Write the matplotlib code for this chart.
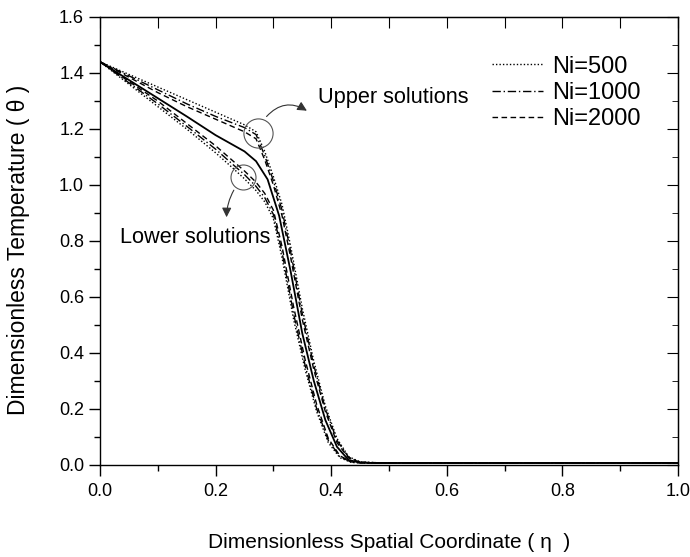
import matplotlib
matplotlib.use('Agg')
import matplotlib.pyplot as plt
from matplotlib.lines import Line2D
from matplotlib.ticker import MultipleLocator, FormatStrFormatter

plt.rcParams['font.family'] = ['Liberation Sans', 'DejaVu Sans']

# solid reference curve
eta_solid = [0, 0.05, 0.10, 0.15, 0.20, 0.25, 0.27, 0.29, 0.31, 0.33, 0.35, 0.37,
             0.39, 0.41, 0.43, 0.45, 0.48, 0.55, 1.0]
theta_solid = [1.44, 1.375, 1.31, 1.245, 1.178, 1.12, 1.085, 1.02, 0.89, 0.69, 0.47,
               0.30, 0.16, 0.065, 0.018, 0.008, 0.007, 0.007, 0.007]

# upper solutions
eta_up = [0, 0.05, 0.10, 0.15, 0.20, 0.25, 0.27, 0.285, 0.30, 0.315, 0.33, 0.35,
          0.37, 0.39, 0.41, 0.43, 0.45, 0.48, 0.55, 1.0]
theta_up_500 = [1.44, 1.395, 1.35, 1.305, 1.26, 1.215, 1.19, 1.12, 1.03, 0.93, 0.78,
                0.56, 0.37, 0.21, 0.095, 0.03, 0.011, 0.008, 0.008, 0.008]
theta_up_1000 = [1.44, 1.39, 1.34, 1.29, 1.245, 1.205, 1.18, 1.105, 1.015, 0.91, 0.76,
                 0.54, 0.355, 0.20, 0.088, 0.028, 0.01, 0.008, 0.008, 0.008]
theta_up_2000 = [1.44, 1.385, 1.33, 1.28, 1.235, 1.19, 1.165, 1.09, 1.0, 0.89, 0.74,
                 0.52, 0.34, 0.19, 0.08, 0.025, 0.01, 0.008, 0.008, 0.008]

# lower solutions
eta_low = [0, 0.05, 0.10, 0.15, 0.20, 0.23, 0.25, 0.27, 0.285, 0.30, 0.315, 0.335,
           0.355, 0.375, 0.395, 0.415, 0.435, 0.46, 0.5, 0.55, 1.0]
theta_low_500 = [1.44, 1.36, 1.28, 1.20, 1.115, 1.06, 1.022, 0.98, 0.94, 0.88, 0.74,
                 0.52, 0.34, 0.19, 0.08, 0.026, 0.009, 0.007, 0.007, 0.007, 0.007]
theta_low_1000 = [1.44, 1.365, 1.29, 1.21, 1.128, 1.073, 1.037, 0.995, 0.955, 0.895, 0.76,
                  0.54, 0.355, 0.20, 0.088, 0.03, 0.01, 0.007, 0.007, 0.007, 0.007]
theta_low_2000 = [1.44, 1.37, 1.30, 1.22, 1.14, 1.086, 1.05, 1.01, 0.97, 0.91, 0.78,
                  0.565, 0.375, 0.215, 0.095, 0.033, 0.011, 0.007, 0.007, 0.007, 0.007]

labels = ['Ni=500', 'Ni=1000', 'Ni=2000']
styles = [(0, (1, 1.5)), (0, (6, 2, 1, 2)), (0, (4, 2.5))]

fig = plt.figure(figsize=(6.9, 5.57), dpi=100)
ax = fig.add_axes([0.1449, 0.1652, 0.8377, 0.8043])

ax.plot(eta_solid, theta_solid, color='black', lw=1.3, ls='-')
for th, ls in zip([theta_up_500, theta_up_1000, theta_up_2000], styles):
    ax.plot(eta_up, th, color='black', lw=1.0, ls=ls)
for th, ls in zip([theta_low_500, theta_low_1000, theta_low_2000], styles):
    ax.plot(eta_low, th, color='black', lw=1.0, ls=ls)

# circles marking the two families
ax.plot([0.273], [1.186], marker='o', ms=21, mfc='none', mec='#555555', mew=0.8)
ax.plot([0.247], [1.03], marker='o', ms=18, mfc='none', mec='#555555', mew=0.8)

ax.annotate('', xy=(0.362, 1.26), xytext=(0.285, 1.237),
            arrowprops=dict(arrowstyle='-|>', color='#333333', lw=0.8,
                            mutation_scale=14, connectionstyle='arc3,rad=-0.45'))
ax.annotate('', xy=(0.219, 0.875), xytext=(0.234, 0.99),
            arrowprops=dict(arrowstyle='-|>', color='#333333', lw=0.8,
                            mutation_scale=14, connectionstyle='arc3,rad=0.15'))
ax.text(0.377, 1.314, 'Upper solutions', fontsize=15.7, ha='left', va='center')
ax.text(0.035, 0.811, 'Lower solutions', fontsize=15.7, ha='left', va='center')

handles = [Line2D([], [], color='black', lw=1.0, ls=ls) for ls in styles]
ax.legend(handles, labels, loc='upper left', bbox_to_anchor=(0.678, 0.914),
          frameon=False, fontsize=17, handlelength=2.16, handletextpad=0.38,
          labelspacing=0.19, borderpad=0, borderaxespad=0)

ax.set_xlim(0, 1.0)
ax.set_ylim(0, 1.6)
ax.xaxis.set_major_locator(MultipleLocator(0.2))
ax.xaxis.set_minor_locator(MultipleLocator(0.1))
ax.yaxis.set_major_locator(MultipleLocator(0.2))
ax.yaxis.set_minor_locator(MultipleLocator(0.1))
ax.xaxis.set_major_formatter(FormatStrFormatter('%.1f'))
ax.yaxis.set_major_formatter(FormatStrFormatter('%.1f'))
ax.tick_params(which='both', direction='out', top=False, right=False, labelsize=13, width=1)
ax.tick_params(which='major', length=8)
ax.tick_params(which='minor', length=4)
ax.tick_params(axis='x', pad=5)

# inward ticks on top and right
axt = ax.secondary_xaxis('top')
axt.xaxis.set_major_locator(MultipleLocator(0.1))
axt.tick_params(direction='in', length=8, labeltop=False)
axr = ax.secondary_yaxis('right')
axr.yaxis.set_major_locator(MultipleLocator(0.2))
axr.yaxis.set_minor_locator(MultipleLocator(0.1))
axr.tick_params(which='major', direction='in', length=8, labelright=False)
axr.tick_params(which='minor', direction='in', length=4)

for sp in ax.spines.values():
    sp.set_linewidth(1.0)

ax.set_xlabel('Dimensionless Spatial Coordinate ( \u03b7  )', fontsize=15, labelpad=24)
ax.set_ylabel('Dimensionless Temperature ( \u03b8 )', fontsize=16.5)
ax.yaxis.set_label_coords(-0.121, 0.48)

fig.savefig('out.png', dpi=100)
